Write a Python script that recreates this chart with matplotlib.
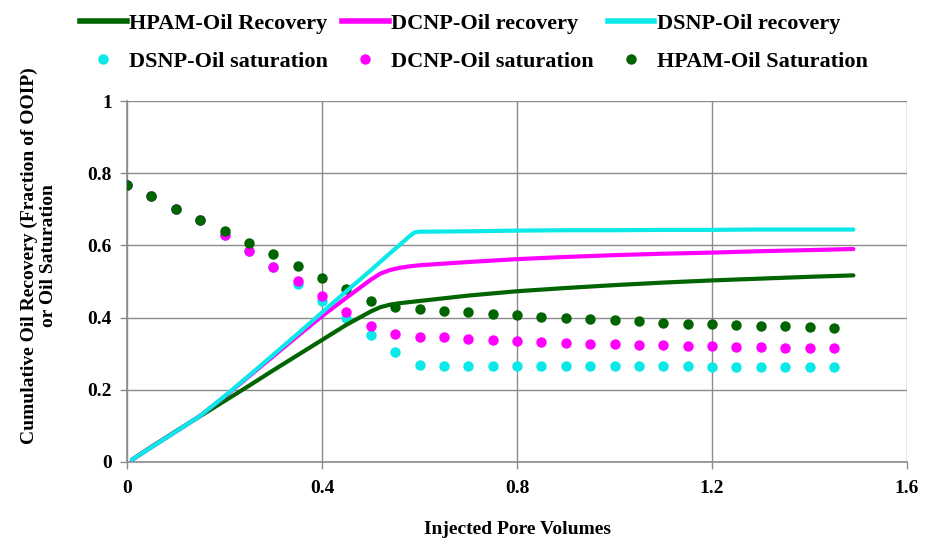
import numpy as np
import matplotlib
matplotlib.use("Agg")
import matplotlib.pyplot as plt
from matplotlib.lines import Line2D

# injected pore volumes for the saturation points
sat_pv = [0.00, 0.05, 0.10, 0.15, 0.20, 0.25, 0.30, 0.35, 0.40, 0.45,
          0.50, 0.55, 0.60, 0.65, 0.70, 0.75, 0.80, 0.85, 0.90, 0.95,
          1.00, 1.05, 1.10, 1.15, 1.20, 1.25, 1.30, 1.35, 1.40, 1.45]

hpam_sat = [0.767, 0.736, 0.702, 0.669, 0.639, 0.607, 0.575, 0.542, 0.510, 0.478,
            0.447, 0.429, 0.425, 0.419, 0.415, 0.410, 0.406, 0.403, 0.399, 0.395,
            0.393, 0.390, 0.386, 0.383, 0.382, 0.380, 0.378, 0.376, 0.374, 0.371]
dcnp_sat = [0.767, 0.736, 0.702, 0.669, 0.628, 0.585, 0.540, 0.502, 0.459, 0.416,
            0.376, 0.354, 0.347, 0.345, 0.342, 0.338, 0.335, 0.333, 0.331, 0.328,
            0.326, 0.324, 0.323, 0.322, 0.321, 0.319, 0.318, 0.317, 0.316, 0.315]
dsnp_sat = [0.767, 0.736, 0.702, 0.669, 0.628, 0.585, 0.540, 0.493, 0.447, 0.400,
            0.352, 0.304, 0.268, 0.267, 0.267, 0.266, 0.266, 0.266, 0.265, 0.265,
            0.265, 0.265, 0.265, 0.265, 0.264, 0.264, 0.264, 0.264, 0.264, 0.264]

# oil recovery curves
hpam_pv = [0.01, 0.05, 0.10, 0.15, 0.20, 0.25, 0.30, 0.35, 0.40, 0.45, 0.50, 0.52,
           0.54, 0.56, 0.58, 0.60, 0.70, 0.80, 0.90, 1.00, 1.10, 1.20, 1.30, 1.40, 1.49]
hpam_rec = [0.006, 0.042, 0.085, 0.127, 0.169, 0.211, 0.254, 0.296, 0.338, 0.380, 0.417, 0.429,
            0.436, 0.440, 0.443, 0.446, 0.461, 0.473, 0.482, 0.490, 0.497, 0.503, 0.508, 0.513, 0.517]

dcnp_pv = [0.01, 0.05, 0.10, 0.15, 0.20, 0.25, 0.30, 0.35, 0.40, 0.45, 0.50, 0.52,
           0.54, 0.56, 0.58, 0.60, 0.70, 0.80, 0.90, 1.00, 1.10, 1.20, 1.30, 1.40, 1.49]
dcnp_rec = [0.006, 0.041, 0.084, 0.128, 0.181, 0.237, 0.293, 0.349, 0.404, 0.455, 0.505, 0.522,
            0.532, 0.538, 0.542, 0.545, 0.554, 0.562, 0.568, 0.573, 0.577, 0.580, 0.584, 0.587, 0.590]

dsnp_pv = [0.01, 0.05, 0.10, 0.15, 0.20, 0.25, 0.30, 0.35, 0.40, 0.45, 0.50, 0.52,
           0.54, 0.56, 0.58, 0.59, 0.60, 0.70, 0.80, 0.90, 1.00, 1.10, 1.20, 1.30, 1.40, 1.49]
dsnp_rec = [0.006, 0.041, 0.084, 0.128, 0.182, 0.239, 0.297, 0.355, 0.414, 0.473, 0.531, 0.555,
            0.579, 0.602, 0.626, 0.636, 0.638, 0.639, 0.641, 0.642, 0.642, 0.643, 0.643, 0.644, 0.644, 0.644]

x_ticks = [0, 0.4, 0.8, 1.2, 1.6]
x_labels = ["0", "0.4", "0.8", "1.2", "1.6"]
y_ticks = [0, 0.2, 0.4, 0.6, 0.8, 1.0]
y_labels = ["0", "0.2", "0.4", "0.6", "0.8", "1"]

green = "#006400"
magenta = "#FF00FF"
cyan = "#0BE8E8"
gridc = "#8C8C8C"

plt.rcParams["font.family"] = ["Liberation Serif", "DejaVu Serif"]
plt.rcParams["font.weight"] = "bold"

fig = plt.figure(figsize=(9.31, 5.41), dpi=100)
ax = fig.add_axes([127 / 931, 1 - 462 / 541, 780 / 931, 361 / 541])

ms = 7.5
ax.plot(sat_pv, dsnp_sat, "o", color=cyan, ms=ms, mec="none", zorder=3)
ax.plot(sat_pv, dcnp_sat, "o", color=magenta, ms=ms, mec="none", zorder=4)
ax.plot(sat_pv, hpam_sat, "o", color=green, ms=ms, mec="none", zorder=5)

lw = 3.0
ax.plot(hpam_pv, hpam_rec, "-", color=green, lw=lw, solid_capstyle="round", zorder=6)
ax.plot(dcnp_pv, dcnp_rec, "-", color=magenta, lw=lw, solid_capstyle="round", zorder=7)
ax.plot(dsnp_pv, dsnp_rec, "-", color=cyan, lw=lw, solid_capstyle="round", zorder=8)

ax.set_xlim(0, 1.6)
ax.set_ylim(0, 1.0)
ax.set_xticks(x_ticks)
ax.set_xticklabels(x_labels)
ax.set_yticks(y_ticks)
ax.set_yticklabels(y_labels)
ax.tick_params(axis="both", labelsize=14, color=gridc, length=5, width=1)
ax.tick_params(axis="x", pad=8)
ax.tick_params(axis="y", pad=6)
ax.grid(True, color=gridc, lw=1)
ax.set_axisbelow(True)
for s in ["top", "right"]:
    ax.spines[s].set_visible(False)
for s in ["left", "bottom"]:
    ax.spines[s].set_color(gridc)
    ax.spines[s].set_linewidth(1.2)

ax.set_xlabel("Injected Pore Volumes", fontsize=14, fontweight="bold")
ax.xaxis.set_label_coords(0.5, -0.163)
ax.set_ylabel("Cumulative Oil Recovery (Fraction of OOIP)\nor Oil Saturation",
              fontsize=14, fontweight="bold", linespacing=1.15)
ax.yaxis.set_label_coords(-0.09, 0.571)

handles = [
    Line2D([], [], color=green, lw=4),
    Line2D([], [], ls="none", marker="o", color=cyan, ms=ms, mec="none"),
    Line2D([], [], color=magenta, lw=4),
    Line2D([], [], ls="none", marker="o", color=magenta, ms=ms, mec="none"),
    Line2D([], [], color=cyan, lw=4),
    Line2D([], [], ls="none", marker="o", color=green, ms=ms, mec="none"),
]
labels = ["HPAM-Oil Recovery", "DSNP-Oil saturation",
          "DCNP-Oil recovery", "DCNP-Oil saturation",
          "DSNP-Oil recovery", "HPAM-Oil Saturation"]
fig.legend(handles, labels, ncol=3, loc="upper left",
           bbox_to_anchor=(80 / 931, 1 - 13 / 541), frameon=False,
           prop={"size": 16, "weight": "bold"}, handlelength=2.1,
           handletextpad=0.12, columnspacing=0.62, labelspacing=0.8,
           borderpad=0, borderaxespad=0)

fig.savefig("out.png", dpi=100)
